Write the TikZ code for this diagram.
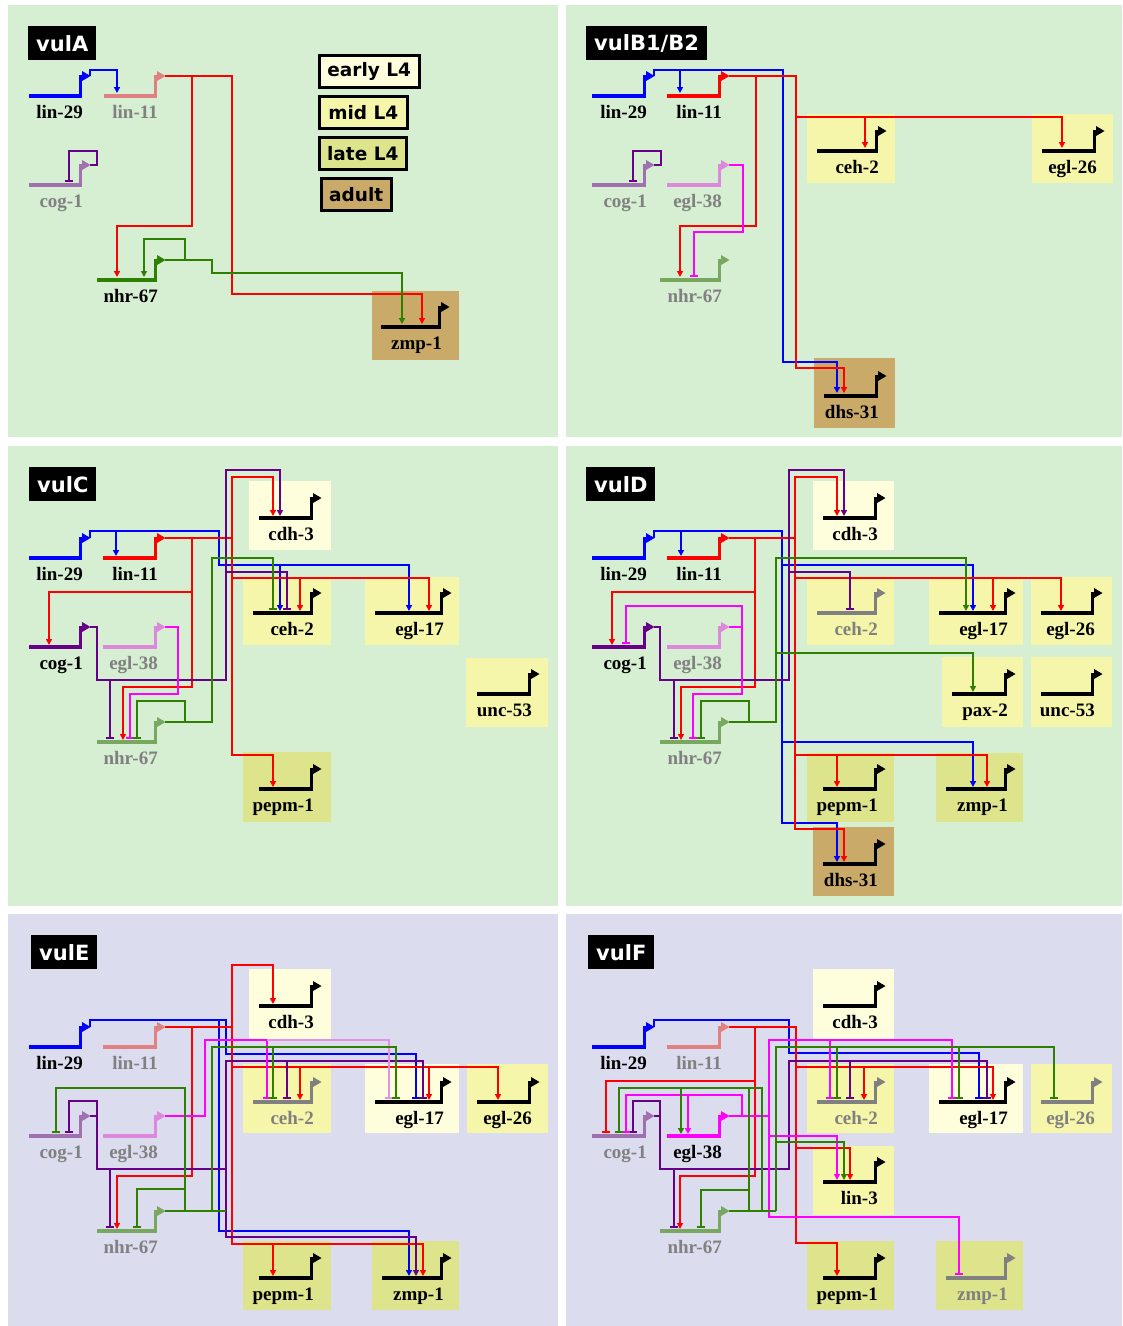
\documentclass[tikz,border=0pt]{standalone}
\usepackage{fontspec}
\setmainfont{Liberation Serif}
\newfontfamily\dvs{DejaVu Sans}
\usetikzlibrary{arrows.meta}
\definecolor{bgG}{HTML}{D6EED2}
\definecolor{bgP}{HTML}{DCDCEF}
\definecolor{early}{HTML}{FEFEDD}
\definecolor{mid}{HTML}{F6F6AA}
\definecolor{late}{HTML}{DDE48C}
\definecolor{adult}{HTML}{C9AA68}
\definecolor{cB}{HTML}{0000FF}
\definecolor{cR}{HTML}{FF0000}
\definecolor{cP}{HTML}{660088}
\definecolor{cM}{HTML}{FF00FF}
\definecolor{cG}{HTML}{2E8000}
\definecolor{iR}{HTML}{E08080}
\definecolor{iP}{HTML}{A070B0}
\definecolor{iM}{HTML}{DD88DD}
\definecolor{iG}{HTML}{78A860}
\definecolor{gry}{HTML}{808080}
\definecolor{pk}{HTML}{E490E4}
\tikzset{
  gbase/.style={line width=3.6pt},
  con/.style={line width=1.7pt},
  act/.style={-{Triangle[length=6pt,width=6pt]}},
  inh/.style={-{Bar[width=8pt]}},
  glbl/.style={font=\fontsize{19}{20}\selectfont\bfseries, anchor=base east, inner sep=0pt},
  ttl/.style={fill=black, text=white, font=\dvs\bfseries\fontsize{21}{22}\selectfont, anchor=north west, minimum height=34pt, inner xsep=8pt, inner ysep=0pt},
  lgd/.style={draw=black, line width=2.5pt, font=\dvs\bfseries\fontsize{18.5}{20}\selectfont, anchor=north west, minimum height=32pt, inner sep=0pt},
}
% gene: id, xL, xR, y, colour, label, label colour
\newcommand{\gn}[7]{%
  \draw[gbase,#5] (#2,#4) -- (#3,#4);
  \draw[line width=3pt,#5] (#3-1.5,#4+1.5) -- (#3-1.5,#4-20) -- (#3+1,#4-20);
  \fill[#5] (#3,#4-25) -- (#3+8.5,#4-20) -- (#3,#4-15) -- cycle;
  \coordinate (#1) at (#3+8,#4-20);
  \node[glbl,text=#7] (#1-t) at (#3+1,#4+22.5) {#6};
}
\newcommand{\tbox}[5]{\fill[#1] (#2,#3) rectangle (#4,#5);}
\begin{document}
\begin{tikzpicture}[x=1pt,y=-1pt]
\useasboundingbox (0,0) rectangle (1123,1326);
\fill[white] (0,0) rectangle (1123,1326);
% panels
\fill[bgG] (8,5) rectangle (558,437);
\fill[bgG] (566,5) rectangle (1122,437);
\fill[bgG] (8,446) rectangle (558,906);
\fill[bgG] (566,446) rectangle (1122,906);
\fill[bgP] (8,914) rectangle (558,1326);
\fill[bgP] (566,914) rectangle (1122,1326);
% titles
\node[ttl] (tA) at (28,26) {vulA};
\node[ttl] (tB) at (586,26) {vulB1/B2};
\node[ttl] (tC) at (29,467) {vulC};
\node[ttl] (tD) at (586,467) {vulD};
\node[ttl] (tE) at (31,935) {vulE};
\node[ttl] (tF) at (588,935) {vulF};
% legend
\node[lgd,fill=early,minimum width=100pt] (lg1) at (318,54) {early L4};
\node[lgd,fill=mid,minimum width=88pt] (lg2) at (318,95) {mid L4};
\node[lgd,fill=late,minimum width=87pt] (lg3) at (318,136) {late L4};
\node[lgd,fill=adult,minimum width=70pt] (lg4) at (320,177) {adult};

% ================= vulA
\tbox{adult}{372}{291}{459}{360}
\draw[con,cB,act] (90,76) -- (90,70) -- (117,70) -- (117,93);
\draw[con,cR,act] (165,76) -- (232,76) -- (232,294) -- (422,294) -- (422,324);
\draw[con,cR,act] (192,76) -- (192,226) -- (117,226) -- (117,277);
\draw[con,cP,inh] (90,165) -- (97,165) -- (97,151) -- (69,151) -- (69,182);
\draw[con,cG,act] (165,260) -- (212,260) -- (212,273) -- (402,273) -- (402,324);
\draw[con,cG,act] (185,260) -- (185,239) -- (144,239) -- (144,277);
\gn{A29}{29}{82}{96}{cB}{lin-29}{black}
\gn{A11}{104}{157}{96}{iR}{lin-11}{gry}
\gn{Acog}{29}{82}{185}{iP}{cog-1}{gry}
\gn{A67}{97}{157}{280}{cG}{nhr-67}{black}
\gn{Azmp}{381}{441}{327}{black}{zmp-1}{black}

% ================= vulB
\tbox{mid}{807}{114}{895}{183}
\tbox{mid}{1032}{114}{1113}{183}
\tbox{adult}{814}{358}{895}{428}
\draw[con,cB,act] (654,76) -- (654,70) -- (783,70) -- (783,362) -- (837,362) -- (837,393);
\draw[con,cB,act] (680,70) -- (680,93);
\draw[con,cR,act] (729,76) -- (796,76) -- (796,368) -- (844,368) -- (844,393);
\draw[con,cR,act] (796,117) -- (1062,117) -- (1062,148);
\draw[con,cR,act] (865,117) -- (865,148);
\draw[con,cR,act] (756,76) -- (756,226) -- (680,226) -- (680,277);
\draw[con,cP,inh] (654,165) -- (661,165) -- (661,151) -- (633,151) -- (633,182);
\draw[con,cM,inh] (729,165) -- (743,165) -- (743,232) -- (694,232) -- (694,277);
\gn{B29}{592}{646}{96}{cB}{lin-29}{black}
\gn{B11}{667}{721}{96}{cR}{lin-11}{black}
\gn{Bcog}{592}{646}{185}{iP}{cog-1}{gry}
\gn{B38}{667}{721}{185}{iM}{egl-38}{gry}
\gn{B67}{660}{721}{280}{iG}{nhr-67}{gry}
\gn{Bceh}{817}{878}{151}{black}{ceh-2}{black}
\gn{B26}{1042}{1096}{151}{black}{egl-26}{black}
\gn{Bdhs}{824}{878}{396}{black}{dhs-31}{black}

% ================= vulC
\tbox{early}{249}{481}{331}{550}
\tbox{mid}{243}{577}{331}{645}
\tbox{mid}{365}{577}{459}{645}
\tbox{mid}{466}{658}{548}{727}
\tbox{late}{243}{752}{331}{822}
\draw[con,cB,act] (90,538) -- (90,531) -- (219,531) -- (219,565) -- (409,565) -- (409,611);
\draw[con,cB,act] (116,531) -- (116,556);
\draw[con,cB,act] (280,565) -- (280,611);
\draw[con,cR,act] (165,538) -- (232,538) -- (232,477) -- (273,477) -- (273,516);
\draw[con,cR,act] (232,538) -- (232,578) -- (429,578) -- (429,611);
\draw[con,cR,act] (300,578) -- (300,611);
\draw[con,cR,act] (232,578) -- (232,755) -- (273,755) -- (273,787);
\draw[con,cR,act] (192,538) -- (192,592) -- (49,592) -- (49,645);
\draw[con,cR,act] (192,592) -- (192,687) -- (123,687) -- (123,740);
\draw[con,cP,act] (90,627) -- (97,627) -- (97,680) -- (226,680) -- (226,470) -- (280,470) -- (280,516);
\draw[con,cP,inh] (110,680) -- (110,739);
\draw[con,cP,inh] (226,572) -- (287,572) -- (287,610);
\draw[con,cM,inh] (165,627) -- (178,627) -- (178,694) -- (130,694) -- (130,739);
\draw[con,cG,inh] (165,722) -- (212,722) -- (212,558) -- (273,558) -- (273,610);
\draw[con,cG,inh] (185,722) -- (185,701) -- (137,701) -- (137,739);
\gn{C29}{29}{82}{558}{cB}{lin-29}{black}
\gn{C11}{103}{157}{558}{cR}{lin-11}{black}
\gn{Ccog}{29}{82}{647}{cP}{cog-1}{black}
\gn{C38}{103}{157}{647}{iM}{egl-38}{gry}
\gn{C67}{97}{157}{742}{iG}{nhr-67}{gry}
\gn{Ccdh}{259}{313}{518}{black}{cdh-3}{black}
\gn{Cceh}{253}{313}{613}{black}{ceh-2}{black}
\gn{C17}{375}{443}{613}{black}{egl-17}{black}
\gn{C53}{477}{531}{694}{black}{unc-53}{black}
\gn{Cpepm}{259}{313}{789}{black}{pepm-1}{black}

% ================= vulD
\tbox{early}{813}{481}{894}{550}
\tbox{mid}{807}{577}{894}{645}
\tbox{mid}{929}{577}{1023}{645}
\tbox{mid}{1031}{577}{1112}{645}
\tbox{mid}{942}{657}{1023}{727}
\tbox{mid}{1031}{657}{1112}{727}
\tbox{late}{807}{753}{894}{822}
\tbox{late}{936}{753}{1023}{822}
\tbox{adult}{813}{827}{894}{896}
\draw[con,cB,act] (654,538) -- (654,531) -- (782,531) -- (782,823) -- (837,823) -- (837,862);
\draw[con,cB,act] (681,531) -- (681,556);
\draw[con,cB,act] (782,565) -- (973,565) -- (973,611);
\draw[con,cB,act] (782,742) -- (973,742) -- (973,787);
\draw[con,cR,act] (729,538) -- (795,538) -- (795,477) -- (837,477) -- (837,516);
\draw[con,cR,act] (795,538) -- (795,829) -- (844,829) -- (844,862);
\draw[con,cR,act] (795,578) -- (1061,578) -- (1061,611);
\draw[con,cR,act] (993,578) -- (993,611);
\draw[con,cR,act] (795,755) -- (987,755) -- (987,787);
\draw[con,cR,act] (837,755) -- (837,787);
\draw[con,cR,act] (755,538) -- (755,592) -- (612,592) -- (612,645);
\draw[con,cR,act] (755,592) -- (755,687) -- (681,687) -- (681,740);
\draw[con,cP,act] (654,627) -- (660,627) -- (660,680) -- (789,680) -- (789,470) -- (844,470) -- (844,516);
\draw[con,cP,inh] (674,680) -- (674,739);
\draw[con,cP,inh] (789,572) -- (850,572) -- (850,610);
\draw[con,cM,inh] (729,627) -- (742,627) -- (742,606) -- (626,606) -- (626,644);
\draw[con,cM,inh] (742,627) -- (742,694) -- (693,694) -- (693,739);
\draw[con,cG,act] (729,722) -- (776,722) -- (776,558) -- (966,558) -- (966,611);
\draw[con,cG,act] (776,653) -- (973,653) -- (973,692);
\draw[con,cG,inh] (749,722) -- (749,701) -- (701,701) -- (701,739);
\gn{D29}{592}{646}{558}{cB}{lin-29}{black}
\gn{D11}{667}{721}{558}{cR}{lin-11}{black}
\gn{Dcog}{592}{646}{647}{cP}{cog-1}{black}
\gn{D38}{667}{721}{647}{iM}{egl-38}{gry}
\gn{D67}{660}{721}{742}{iG}{nhr-67}{gry}
\gn{Dcdh}{823}{877}{518}{black}{cdh-3}{black}
\gn{Dceh}{817}{877}{613}{gry}{ceh-2}{gry}
\gn{D17}{939}{1007}{613}{black}{egl-17}{black}
\gn{D26}{1041}{1094}{613}{black}{egl-26}{black}
\gn{Dpax}{952}{1007}{694}{black}{pax-2}{black}
\gn{D53}{1041}{1094}{694}{black}{unc-53}{black}
\gn{Dpepm}{823}{877}{789}{black}{pepm-1}{black}
\gn{Dzmp}{946}{1007}{789}{black}{zmp-1}{black}
\gn{Ddhs}{823}{877}{864}{black}{dhs-31}{black}

% ================= vulE
\tbox{early}{249}{969}{331}{1039}
\tbox{mid}{243}{1064}{331}{1133}
\tbox{early}{365}{1064}{459}{1133}
\tbox{mid}{467}{1064}{548}{1133}
\tbox{late}{243}{1241}{331}{1310}
\tbox{late}{372}{1241}{459}{1310}
\draw[con,cB,inh] (90,1027) -- (90,1020) -- (226,1020) -- (226,1054) -- (416,1054) -- (416,1099);
\draw[con,cB,act] (219,1020) -- (219,1231) -- (409,1231) -- (409,1276);
\draw[con,cR,act] (165,1027) -- (232,1027) -- (232,965) -- (273,965) -- (273,1004);
\draw[con,cR,act] (232,1027) -- (232,1067) -- (498,1067) -- (498,1100);
\draw[con,cR,act] (300,1067) -- (300,1100);
\draw[con,cR,act] (429,1067) -- (429,1100);
\draw[con,cR,act] (232,1067) -- (232,1244) -- (423,1244) -- (423,1276);
\draw[con,cR,act] (273,1244) -- (273,1276);
\draw[con,cR,act] (192,1027) -- (192,1176) -- (117,1176) -- (117,1229);
\draw[con,cP,inh] (90,1116) -- (97,1116) -- (97,1101) -- (69,1101) -- (69,1133);
\draw[con,cP,inh] (97,1116) -- (97,1169) -- (226,1169) -- (226,1061) -- (423,1061) -- (423,1099);
\draw[con,cP,inh] (287,1061) -- (287,1099);
\draw[con,cP,inh] (110,1169) -- (110,1228);
\draw[con,cP,act] (226,1169) -- (226,1237) -- (416,1237) -- (416,1276);
\draw[con,cM,inh] (165,1116) -- (205,1116) -- (205,1040) -- (267,1040) -- (267,1099);
\draw[con,pk,inh] (267,1040) -- (389,1040) -- (389,1099);
\draw[con,cG] (165,1211) -- (226,1211);
\draw[con,cG,inh] (212,1211) -- (212,1047) -- (396,1047) -- (396,1099);
\draw[con,cG,inh] (273,1047) -- (273,1099);
\draw[con,cG,inh] (185,1211) -- (185,1189) -- (137,1189) -- (137,1228);
\draw[con,cG,inh] (185,1189) -- (185,1088) -- (56,1088) -- (56,1133);
\gn{E29}{29}{82}{1047}{cB}{lin-29}{black}
\gn{E11}{103}{157}{1047}{iR}{lin-11}{gry}
\gn{Ecog}{29}{82}{1136}{iP}{cog-1}{gry}
\gn{E38}{103}{157}{1136}{iM}{egl-38}{gry}
\gn{E67}{97}{157}{1231}{iG}{nhr-67}{gry}
\gn{Ecdh}{259}{313}{1006}{black}{cdh-3}{black}
\gn{Eceh}{253}{313}{1102}{gry}{ceh-2}{gry}
\gn{E17}{375}{443}{1102}{black}{egl-17}{black}
\gn{E26}{477}{531}{1102}{black}{egl-26}{black}
\gn{Epepm}{259}{313}{1278}{black}{pepm-1}{black}
\gn{Ezmp}{382}{443}{1278}{black}{zmp-1}{black}

% ================= vulF
\tbox{early}{813}{969}{894}{1039}
\tbox{mid}{807}{1064}{894}{1133}
\tbox{early}{929}{1064}{1023}{1133}
\tbox{mid}{1031}{1064}{1112}{1133}
\tbox{mid}{813}{1146}{894}{1215}
\tbox{late}{807}{1241}{894}{1310}
\tbox{late}{936}{1241}{1023}{1310}
\draw[con,cB,inh] (654,1027) -- (654,1020) -- (789,1020) -- (789,1053) -- (979,1053) -- (979,1099);
\draw[con,cR,act] (729,1027) -- (796,1027) -- (796,1243) -- (837,1243) -- (837,1276);
\draw[con,cR,act] (796,1067) -- (993,1067) -- (993,1100);
\draw[con,cR,act] (864,1067) -- (864,1100);
\draw[con,cR,act] (796,1148) -- (850,1148) -- (850,1180);
\draw[con,cR,act] (755,1027) -- (755,1176) -- (680,1176) -- (680,1229);
\draw[con,cR,inh] (755,1081) -- (606,1081) -- (606,1133);
\draw[con,cP,inh] (654,1116) -- (660,1116) -- (660,1101) -- (633,1101) -- (633,1133);
\draw[con,cP,inh] (660,1116) -- (660,1169) -- (789,1169) -- (789,1061) -- (987,1061) -- (987,1099);
\draw[con,cP,inh] (850,1061) -- (850,1099);
\draw[con,cP,inh] (674,1169) -- (674,1228);
\draw[con,cM,inh] (729,1116) -- (742,1116) -- (742,1095) -- (626,1095) -- (626,1133);
\draw[con,cM,act] (688,1095) -- (688,1134);
\draw[con,cM,inh] (742,1116) -- (769,1116) -- (769,1040) -- (952,1040) -- (952,1099);
\draw[con,cM,inh] (830,1040) -- (830,1099);
\draw[con,cM,inh] (769,1116) -- (769,1217) -- (959,1217) -- (959,1275);
\draw[con,cM,act] (769,1136) -- (837,1136) -- (837,1180);
\draw[con,cG] (729,1211) -- (776,1211);
\draw[con,cG,inh] (776,1211) -- (776,1047) -- (1054,1047) -- (1054,1099);
\draw[con,cG,inh] (837,1047) -- (837,1099);
\draw[con,cG,inh] (959,1047) -- (959,1099);
\draw[con,cG,act] (776,1142) -- (844,1142) -- (844,1180);
\draw[con,cG,inh] (749,1211) -- (749,1190) -- (701,1190) -- (701,1228);
\draw[con,cG] (749,1190) -- (749,1088);
\draw[con,cG,inh] (762,1211) -- (762,1088) -- (619,1088) -- (619,1133);
\draw[con,cG,act] (681,1088) -- (681,1134);
\gn{F29}{592}{646}{1047}{cB}{lin-29}{black}
\gn{F11}{667}{721}{1047}{iR}{lin-11}{gry}
\gn{Fcog}{592}{646}{1136}{iP}{cog-1}{gry}
\gn{F38}{667}{721}{1136}{cM}{egl-38}{black}
\gn{F67}{660}{721}{1231}{iG}{nhr-67}{gry}
\gn{Fcdh}{823}{877}{1006}{black}{cdh-3}{black}
\gn{Fceh}{817}{877}{1102}{gry}{ceh-2}{gry}
\gn{F17}{939}{1007}{1102}{black}{egl-17}{black}
\gn{F26}{1041}{1094}{1102}{gry}{egl-26}{gry}
\gn{Flin3}{823}{877}{1182}{black}{lin-3}{black}
\gn{Fpepm}{823}{877}{1278}{black}{pepm-1}{black}
\gn{Fzmp}{946}{1007}{1278}{gry}{zmp-1}{gry}
\end{tikzpicture}
\end{document}
